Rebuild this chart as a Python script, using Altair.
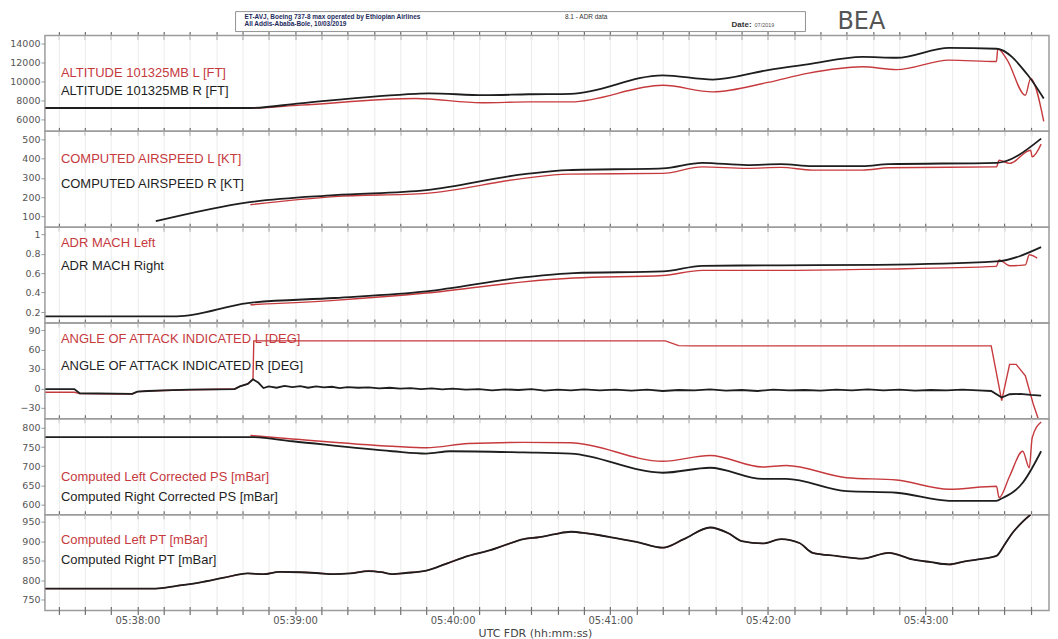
import altair as alt
import pandas as pd

T0 = 5 * 3600 + 37 * 60  # 05:37:00 UTC in seconds after midnight

# ---------------- data (time = seconds after 05:37:00) ----------------
alt_l_t = [25, 103, 122, 166, 191, 209, 225, 260, 279, 300, 315, 336, 349, 369, 387, 387.5, 391, 398, 400, 405]
alt_l_v = [7200, 7200, 7500, 8200, 7750, 7850, 7850, 9600, 8900, 9900, 10850, 11550, 11250, 12250, 12100, 13450, 12300, 8550, 10300, 5800]
alt_r_t = [25, 103, 122, 166, 171, 192, 209, 225, 260, 279, 300, 315, 336, 349, 369, 387, 399, 405]
alt_r_v = [7200, 7200, 7700, 8700, 8750, 8550, 8650, 8700, 10650, 10200, 11200, 11800, 12600, 12500, 13550, 13450, 10650, 8200]

cas_l_t = [103, 135, 170, 207, 224, 260, 275, 292, 305, 317, 336, 346, 387, 388, 392, 400, 400.6, 404]
cas_l_v = [160, 202, 219, 297, 319, 323, 357, 349, 354, 340, 340, 352, 357, 392, 375, 443, 409, 475]
cas_r_t = [67, 102, 135, 170, 208, 224, 260, 275, 292, 305, 317, 336, 346, 387, 404]
cas_r_v = [74, 172, 210, 236, 320, 340, 349, 378, 366, 371, 361, 361, 371, 378, 504]

mach_l_t = [103, 135, 170, 207, 226, 260, 275, 305, 342, 387, 388, 392, 398, 399.5, 402.5]
mach_l_v = [0.275, 0.32, 0.395, 0.51, 0.549, 0.576, 0.628, 0.628, 0.641, 0.669, 0.736, 0.675, 0.685, 0.788, 0.754]
mach_r_t = [25, 75, 102, 135, 170, 207, 226, 260, 275, 305, 342, 387, 404]
mach_r_v = [0.156, 0.156, 0.292, 0.344, 0.412, 0.556, 0.6, 0.617, 0.675, 0.68, 0.685, 0.72, 0.867]

aoa_l_t = [25, 36, 38, 58, 60, 64, 80, 97, 99, 102, 104, 104.3, 261, 266, 271, 385, 389, 392, 394.5, 398, 401, 404]
aoa_l_v = [-6, -6, -8, -8.7, -5, -4, -2, -1, 3, 7, 14, 73.3, 73.3, 66, 65.6, 65.6, -19, 37, 37, 19.5, -24, -60]
aoa_r_t = [25, 36, 38, 58, 60, 64, 70, 80, 90, 97, 99, 102, 104, 106, 108, 110, 113, 116, 119, 122, 125,
           128, 131, 134, 137, 140, 144, 148, 152, 156, 160, 164, 168, 172, 176, 180, 185, 190, 195, 200,
           205, 210, 215, 220, 225, 230, 236, 242, 248, 254, 260, 266, 272, 278, 284, 290, 296, 302, 308,
           314, 320, 326, 332, 338, 344, 350, 356, 362, 368, 374, 380, 385, 389, 392, 396, 400, 404]
aoa_r_v = [-1, -1, -7.5, -8.5, -5, -4, -3, -2, -1.5, -1, 3, 7, 14, 9, 0.5, 3, 1, 4, 2, 3.5, 1,
           3, 1.5, 2.5, 0.5, 2, 1, 1.5, 0, 1, -0.5, 0.5, -1, 0, -1.5, -0.5, -2, -1, -3, -1.5,
           -2.5, -1, -3.5, -2, -3, -1.5, -3, -2, -3.5, -2, -4, -2.5, -3, -1.5, -3.5, -2.5, -4, -2, -3,
           -2.5, -3.5, -2, -3, -1.5, -3, -2, -3.5, -2.5, -3, -2, -3, -4, -14, -9, -8.5, -10, -11]

ps_l_t = [103, 119, 157, 170, 186, 207, 225, 260, 278, 298, 307, 330, 349, 369, 387, 388, 392, 397, 399.5, 400.6, 404]
ps_l_v = [780, 771, 752, 748, 759, 762, 761, 713, 728, 698, 702, 670, 664, 640, 648, 618, 674, 739, 696, 774, 815]
ps_r_t = [25, 103, 119, 157, 170, 179, 207, 225, 260, 278, 298, 307, 330, 349, 369, 387, 389, 397, 404]
ps_r_v = [776, 776, 765, 739, 733, 739, 736, 733, 683, 696, 667, 667, 635, 631, 610, 610, 616, 657, 739]

pt_r_t = [25, 67, 75, 84, 93, 102, 108, 114, 122, 128, 135, 141, 148, 153, 157, 162, 170, 178, 186, 194,
          200, 207, 213, 219, 225, 231, 236, 241, 250, 260, 268, 278, 285, 290, 298, 305, 312, 317, 326,
          336, 346, 355, 362, 369, 375, 380, 387, 390, 393, 397, 400]
pt_r_v = [778, 778, 785, 794, 806, 817, 815, 821, 820, 818, 815, 817, 823, 820, 815, 818, 824, 843, 862, 876,
          890, 905, 910, 918, 924, 920, 915, 909, 898, 883, 905, 935, 920, 900, 894, 905, 895, 870, 862,
          855, 870, 853, 846, 840, 848, 853, 862, 890, 920, 950, 968]
pt_l_t = pt_r_t
pt_l_v = pt_r_v

# ---------------- style ----------------
RED = "#c63a3e"
BLK = "#1e1e1e"
LFONT = "Liberation Sans"
TFONT = "DejaVu Sans"
W, H = 1006, 96
XDOM = [T0 + 24.8, T0 + 407]
TICKS = [T0 + s for s in range(30, 401, 10)]


def frame(t, v):
    return pd.DataFrame({"t": [T0 + x for x in t], "v": v})


def xenc(bottom=False, grid=True):
    common = dict(values=TICKS, tickSize=8, offset=-4, domain=False, grid=grid,
                  gridColor="#ececec", tickColor="#707070", tickWidth=1.2)
    if bottom:
        ax = alt.Axis(labelExpr="datum.value % 60 == 0 ? utcFormat(datum.value * 1000, '%H:%M:%S') : ''",
                      title="UTC FDR (hh:mm:ss)", labelFont=TFONT, labelFontSize=10, labelColor="#555",
                      labelPadding=1, titleFont=TFONT, titleFontSize=11, titleFontWeight="normal",
                      titleColor="#444", titlePadding=2, titleX=491, **common)
    else:
        ax = alt.Axis(labels=False, title=None, **common)
    return alt.X("t:Q", scale=alt.Scale(domain=XDOM, nice=False, zero=False), axis=ax)


def yenc(dom, vals, fmt="d"):
    kw = dict(values=vals, title=None, grid=False, tickSize=4, tickColor="#999", domain=False,
              labelFont=TFONT, labelFontSize=9.5, labelColor="#555", labelPadding=1,
              minExtent=36, maxExtent=36, format=fmt)
    return alt.Y("v:Q", scale=alt.Scale(domain=dom, nice=False, zero=False), axis=alt.Axis(**kw))


def label(text, color, ypos):
    return alt.Chart(pd.DataFrame({"label": [text]})).mark_text(
        align="left", baseline="middle", font=LFONT, fontSize=13, color=color
    ).encode(text="label:N", x=alt.value(16), y=alt.value(ypos))


def panel(dl, dr, dom, vals, lab_l, lab_r, yl, yr, bottom=False, fmt="d", interp="monotone"):
    x = xenc(bottom)
    y = yenc(dom, vals, fmt)
    red = alt.Chart(dl).mark_line(color=RED, strokeWidth=1.4, clip=True, interpolate=interp).encode(x=x, y=y)
    blk = alt.Chart(dr).mark_line(color=BLK, strokeWidth=1.8, clip=True, interpolate=interp).encode(x=x, y=y)
    return alt.layer(red, blk, label(lab_l, RED, yl), label(lab_r, BLK, yr)).properties(width=W, height=H)


p1 = panel(frame(alt_l_t, alt_l_v), frame(alt_r_t, alt_r_v), [4737, 14842], [6000, 8000, 10000, 12000, 14000],
           "ALTITUDE 101325MB L [FT]", "ALTITUDE 101325MB R [FT]", 38, 56)
p2 = panel(frame(cas_l_t, cas_l_v), frame(cas_r_t, cas_r_v), [43, 541.6], [100, 200, 300, 400, 500],
           "COMPUTED AIRSPEED L [KT]", "COMPUTED AIRSPEED R [KT]", 28, 53)
p3 = panel(frame(mach_l_t, mach_l_v), frame(mach_r_t, mach_r_v), [0.087, 1.072], [0.2, 0.4, 0.6, 0.8, 1.0],
           "ADR MACH Left", "ADR MACH Right", 16, 39, fmt=".1~f")
p4 = panel(frame(aoa_l_t, aoa_l_v), frame(aoa_r_t, aoa_r_v), [-46.9, 100.8], [-30, 0, 30, 60, 90],
           "ANGLE OF ATTACK INDICATED L [DEG]", "ANGLE OF ATTACK INDICATED R [DEG]", 16, 43, interp="linear")
p5 = panel(frame(ps_l_t, ps_l_v), frame(ps_r_t, ps_r_v), [574, 823.4], [600, 650, 700, 750, 800],
           "Computed Left Corrected PS [mBar]", "Computed Right Corrected PS [mBar]", 58, 78)
p6 = panel(frame(pt_l_t, pt_l_v), frame(pt_r_t, pt_r_v), [721.8, 968], [750, 800, 850, 900, 950],
           "Computed Left PT [mBar]", "Computed Right PT [mBar]", 25, 45, bottom=True)

# ---------------- header ----------------
one = pd.DataFrame({"t": [T0 + 60]})
hdr_axis = alt.Chart(one).mark_point(opacity=0).encode(x=xenc(grid=False))
box = alt.Chart(one).mark_rect(fill="white", stroke="#777", strokeWidth=0.8).encode(
    x=alt.value(191), x2=alt.value(762), y=alt.value(0), y2=alt.value(20))


def htext(text, x, y, size, weight="bold", color="#1d2b5c", font=LFONT):
    return alt.Chart(pd.DataFrame({"label": [text]})).mark_text(
        align="left", baseline="middle", font=font, fontSize=size, fontWeight=weight, color=color
    ).encode(text="label:N", x=alt.value(x), y=alt.value(y))


header = alt.layer(
    hdr_axis, box,
    htext("ET-AVJ, Boeing 737-8 max operated by Ethiopian Airlines", 200, 5, 6.5),
    htext("All Addis-Ababa-Bole, 10/03/2019", 200, 12, 6.5),
    htext("8.1 - ADR data", 521, 5, 6.5, weight="normal", color="#333"),
    htext("Date:", 688, 13, 8, color="#333"),
    htext("07/2019", 711, 13, 5.5, weight="normal", color="#555"),
    htext("BEA", 794, 10, 24, weight="normal", color="#555", font="DejaVu Sans"),
).properties(width=W, height=24, view=alt.ViewBackground(stroke="transparent"))

chart = alt.vconcat(header, p1, p2, p3, p4, p5, p6, spacing=0, bounds="flush").properties(
    padding={"left": 0, "top": 0, "right": 0, "bottom": 0}
).configure_view(stroke="#9c9c9c", strokeWidth=1.5)

chart.save("out.html", embed_options={"renderer": "svg", "actions": False})
